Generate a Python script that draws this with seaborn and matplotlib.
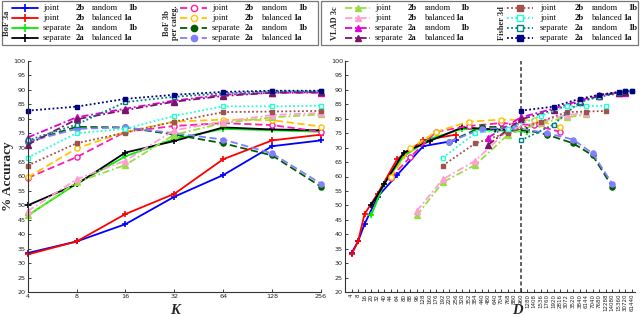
import matplotlib
matplotlib.use("Agg")
import matplotlib.pyplot as plt
import seaborn as sns
import pandas as pd
from matplotlib.patches import Rectangle
from matplotlib.lines import Line2D

# ---------------- data ----------------
K = [4, 8, 16, 32, 64, 128, 256]
D_TICKS = [4, 8, 16, 20, 32, 40, 44, 64, 80, 88, 96, 128, 160, 176, 192, 220, 256,
           320, 352, 384, 440, 480, 640, 704, 768, 880, 960, 1280, 1408, 1536, 1760,
           1920, 2816, 3072, 3520, 3840, 6144, 7040, 7680, 12288, 14080, 15360,
           30720, 61440]
Y_TICKS = list(range(20, 101, 5))
D_SPLIT = 960

GROUPS = ["BoF 3a", "BoF 3b\nper categ.", "VLAD 3c", "Fisher 3d"]
GROUP_DIM = [1, 11, 24, 48]          # descriptor dimension per cluster
SEPARATE_FACTOR = 5                  # separate features multiply dimension
VARIANTS = [("joint", "2b", "random", "1b"),
            ("joint", "2b", "balanced", "1a"),
            ("separate", "2a", "random", "1b"),
            ("separate", "2a", "balanced", "1a")]

bof_joint_random = [33.5, 37.5, 43.5, 53.0, 60.5, 70.5, 72.5]
bof_joint_balanced = [33.0, 37.5, 47.0, 54.0, 66.0, 72.5, 74.5]
bof_sep_random = [46.5, 57.5, 67.0, 73.0, 76.5, 76.0, 75.5]
bof_sep_balanced = [50.0, 57.3, 68.3, 72.3, 77.0, 76.3, 76.0]

cat_joint_random = [59.5, 66.7, 75.5, 77.5, 78.5, 77.8, 75.5]
cat_joint_balanced = [59.7, 69.7, 75.5, 79.0, 79.7, 79.5, 77.3]
cat_sep_random = [72.0, 77.2, 77.0, 74.5, 71.5, 67.3, 56.5]
cat_sep_balanced = [72.0, 76.5, 77.0, 75.0, 72.8, 68.0, 57.5]

vlad_joint_random = [46.5, 58.0, 64.0, 74.5, 78.5, 80.5, 81.5]
vlad_joint_balanced = [48.0, 59.0, 65.5, 76.0, 79.0, 81.3, 82.0]
vlad_sep_random = [73.5, 80.5, 83.5, 86.3, 88.3, 89.0, 89.0]
vlad_sep_balanced = [71.0, 79.8, 83.0, 85.9, 87.9, 89.0, 89.2]

fisher_joint_random = [63.8, 71.5, 75.2, 79.0, 82.3, 82.5, 82.7]
fisher_joint_balanced = [66.5, 75.0, 76.5, 81.0, 84.3, 84.3, 84.5]
fisher_sep_random = [72.5, 78.0, 85.8, 87.6, 88.8, 89.5, 89.5]
fisher_sep_balanced = [82.8, 84.2, 86.9, 88.3, 89.3, 89.7, 89.7]

SERIES = [
    [bof_joint_random, bof_joint_balanced, bof_sep_random, bof_sep_balanced],
    [cat_joint_random, cat_joint_balanced, cat_sep_random, cat_sep_balanced],
    [vlad_joint_random, vlad_joint_balanced, vlad_sep_random, vlad_sep_balanced],
    [fisher_joint_random, fisher_joint_balanced, fisher_sep_random, fisher_sep_balanced],
]

# ---------------- styles ----------------
COLORS = [
    ["#0000ff", "#ff0000", "#00ee00", "#000010"],
    ["#ff1cae", "#ffc400", "#005c00", "#8080ff"],
    ["#99dd44", "#ff9fd0", "#dd00dd", "#7a1466"],
    ["#a0524d", "#22ffd0", "#008080", "#000080"],
]
MARKERS = ["+", "o", "^", "s"]
LSTYLES = ["-", (0, (4, 2)), (0, (4, 1.5, 1, 1.5)), (0, (1, 1.3))]
HOLLOW = [[False] * 4, [True, True, False, False], [False] * 4, [False, True, True, False]]
MSIZE = [4.5, 3.7, 4.2, 3.3]

W, H = 640, 317
sns.set_theme(style="white")
plt.rcParams["font.family"] = ["DejaVu Sans"]
fig = plt.figure(figsize=(W / 100, H / 100), dpi=100)


def fx(px):
    return px / W


def fy(py):
    return 1 - py / H


y0, y1 = 292, 61
axL = fig.add_axes([fx(27.7), fy(y0), fx(321) - fx(27.7), fy(y1) - fy(y0)])
axR = fig.add_axes([fx(345), fy(y0), fx(635) - fx(345), fy(y1) - fy(y0)])


def style(g, v):
    c = COLORS[g][v]
    return dict(color=c, marker=MARKERS[g], linestyle=LSTYLES[g],
                markersize=MSIZE[g], markeredgecolor=c,
                markerfacecolor=("white" if HOLLOW[g][v] else c),
                markeredgewidth=1.0 if g else 1.2, linewidth=1.3)


for g in range(4):
    for v in range(4):
        acc = SERIES[g][v]
        factor = GROUP_DIM[g] * (SEPARATE_FACTOR if v >= 2 else 1)
        dims = [k * factor for k in K]
        df = pd.DataFrame({"K": K, "D": dims, "acc": acc,
                           "pos": [D_TICKS.index(d) for d in dims]})
        st = style(g, v)
        sns.lineplot(data=df, x="K", y="acc", ax=axL, legend=False, sort=False,
                     clip_on=False, **st)
        sns.lineplot(data=df, x="pos", y="acc", ax=axR, legend=False, sort=False,
                     clip_on=False, **st)

axR.axvline(D_TICKS.index(D_SPLIT), color="#555555", linestyle=(0, (2.2, 1.4)),
            linewidth=1.3, zorder=0.5)

axL.set_xscale("log", base=2)
axL.set_xlim(4, 256)
axL.set_xticks(K)
axL.set_xticklabels([str(k) for k in K])
axL.minorticks_off()
axR.set_xlim(-1, 43.5)
axR.set_xticks(range(len(D_TICKS)))
axR.set_xticklabels([str(d) for d in D_TICKS], rotation=90)

for ax in (axL, axR):
    ax.set_ylim(20, 100)
    ax.set_yticks(Y_TICKS)
    ax.set_yticklabels([str(y) for y in Y_TICKS])
    ax.set_xlabel("")
    ax.set_ylabel("")
    for s in ("top", "right"):
        ax.spines[s].set_visible(False)
    for s in ("left", "bottom"):
        ax.spines[s].set_color("#333333")
        ax.spines[s].set_linewidth(0.8)
    ax.tick_params(direction="in", length=2.5, width=0.6, labelsize=4.6, pad=1.5,
                   colors="#222222", left=True, bottom=True)
    ax.patch.set_alpha(0)
axR.tick_params(axis="x", labelsize=4.0, pad=1.2)

fig.text(fx(8), fy(176), "% Accuracy", rotation=90, ha="center", va="center",
         family="Liberation Serif", fontweight="bold", fontsize=9.5)
fig.text(fx(175), fy(310), "K", ha="center", va="center", family="Liberation Serif",
         fontweight="bold", style="italic", fontsize=10.5)
fig.text(fx(517), fy(310.5), "D", ha="center", va="center", family="Liberation Serif",
         fontweight="bold", style="italic", fontsize=10.5)

# ---------------- legends ----------------
lax = fig.add_axes([0, 0, 1, 1])
lax.set_xlim(0, W)
lax.set_ylim(H, 0)
lax.axis("off")
lax.add_patch(Rectangle((1.5, 1.0), 316.5, 44, fill=False, edgecolor="#777777", lw=0.9))
lax.add_patch(Rectangle((321.0, 1.0), 317, 44, fill=False, edgecolor="#777777", lw=0.9))

ROWS = [7.5, 17.5, 27.5, 37.5]
GX = [  # title x, line start, line end, word columns
    (7, 12, 38, [43, 76, 92, 128]),
    (171, 180, 207, [212, 245, 262, 298]),
    (335, 345, 370, [375, 408, 425, 460]),
    (502, 507, 533, [540, 575, 592, 628]),
]
lfont = dict(family="Liberation Serif", fontsize=6.2, va="center", color="#111111")
for g in range(4):
    tx, l0, l1, cols = GX[g]
    lax.text(tx, 23, GROUPS[g], rotation=90, ha="center", va="center",
             family="Liberation Serif", fontweight="bold", fontsize=6.0,
             linespacing=0.9)
    for v in range(4):
        yy = ROWS[v]
        st = style(g, v)
        lax.add_line(Line2D([l0, l1], [yy, yy], color=st["color"],
                            linestyle=st["linestyle"], linewidth=1.3))
        lax.add_line(Line2D([(l0 + l1) / 2], [yy], marker=st["marker"],
                            markersize=st["markersize"] + 0.8,
                            markeredgecolor=st["color"],
                            markerfacecolor=st["markerfacecolor"],
                            markeredgewidth=st["markeredgewidth"], linestyle="none"))
        w = VARIANTS[v]
        lax.text(cols[0], yy, w[0], ha="left", **lfont)
        lax.text(cols[1], yy, w[1], ha="left", fontweight="bold", **lfont)
        lax.text(cols[2], yy, w[2], ha="left", **lfont)
        lax.text(cols[3] - (5 if w[3] == "1a" else 0), yy, w[3], ha="left",
                 fontweight="bold", **lfont)

fig.savefig("out.png", dpi=100)
